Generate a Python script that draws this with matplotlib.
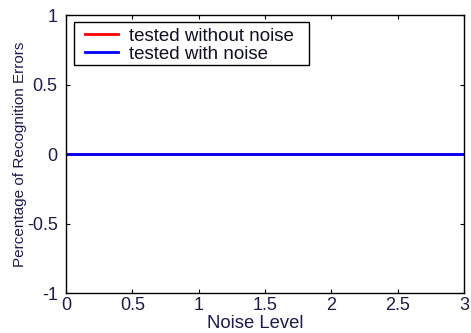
import numpy as np
import matplotlib.pyplot as plt
from matplotlib.path import Path

plt.rcParams['font.family'] = ['Liberation Sans', 'DejaVu Sans']

noise_level = np.array([0, 0.5, 1, 1.5, 2, 2.5, 3])
err_without_noise = np.array([0, 0, 0, 0, 0, 0, 0])
err_with_noise = np.array([0, 0, 0, 0, 0, 0, 0])

txt = '#1c1c4a'


# legend frame a bit wider than matplotlib's own (matlab-style padding)
def legend_box(x0, y0, width, height, mutation_size):
    l, r = x0 - 6, x0 + width + 11
    b, t = y0 + 3, y0 + height + 1
    return Path([(l, b), (r, b), (r, t), (l, t), (l, b)], closed=True)


fig = plt.figure(figsize=(4.71, 3.33), dpi=100)
ax = fig.add_axes([66/471, 40/333, 398/471, 278/333])

ax.plot(noise_level, err_without_noise, color='red', lw=2, label='tested without noise')
ax.plot(noise_level, err_with_noise, color='blue', lw=2, label='tested with noise')

ax.set_xlim(0, 3)
ax.set_ylim(-1, 1)
ax.set_xticks(np.arange(0, 3.01, 0.5))
ax.set_xticklabels(['0', '0.5', '1', '1.5', '2', '2.5', '3'])
ax.set_yticks([-1, -0.5, 0, 0.5, 1])
ax.set_yticklabels(['-1', '-0.5', '0', '0.5', '1'])
ax.tick_params(direction='in', length=3, labelsize=13, labelcolor=txt, color='black',
               top=True, right=True)
ax.tick_params(axis='x', pad=3)
ax.tick_params(axis='y', pad=6)
for s in ax.spines.values():
    s.set_linewidth(1.0)

ax.set_xlabel('Noise Level', fontsize=13.3, color=txt)
ax.xaxis.set_label_coords(0.476, -0.079)
ax.set_ylabel('Percentage of Recognition Errors', fontsize=11, color=txt)
ax.yaxis.set_label_coords(-0.097, 0.5)

leg = ax.legend(loc='upper left', bbox_to_anchor=(14/398, 1 - 8/278), borderaxespad=0,
                fontsize=13.5, fancybox=False, framealpha=1, edgecolor='black',
                borderpad=0.25, labelspacing=0.05, handlelength=1.75, handletextpad=0.6)
leg.get_frame().set_boxstyle(legend_box)
leg.get_frame().set_linewidth(1.0)
for t in leg.get_texts():
    t.set_color('#101020')

plt.savefig('out.png', dpi=100)
